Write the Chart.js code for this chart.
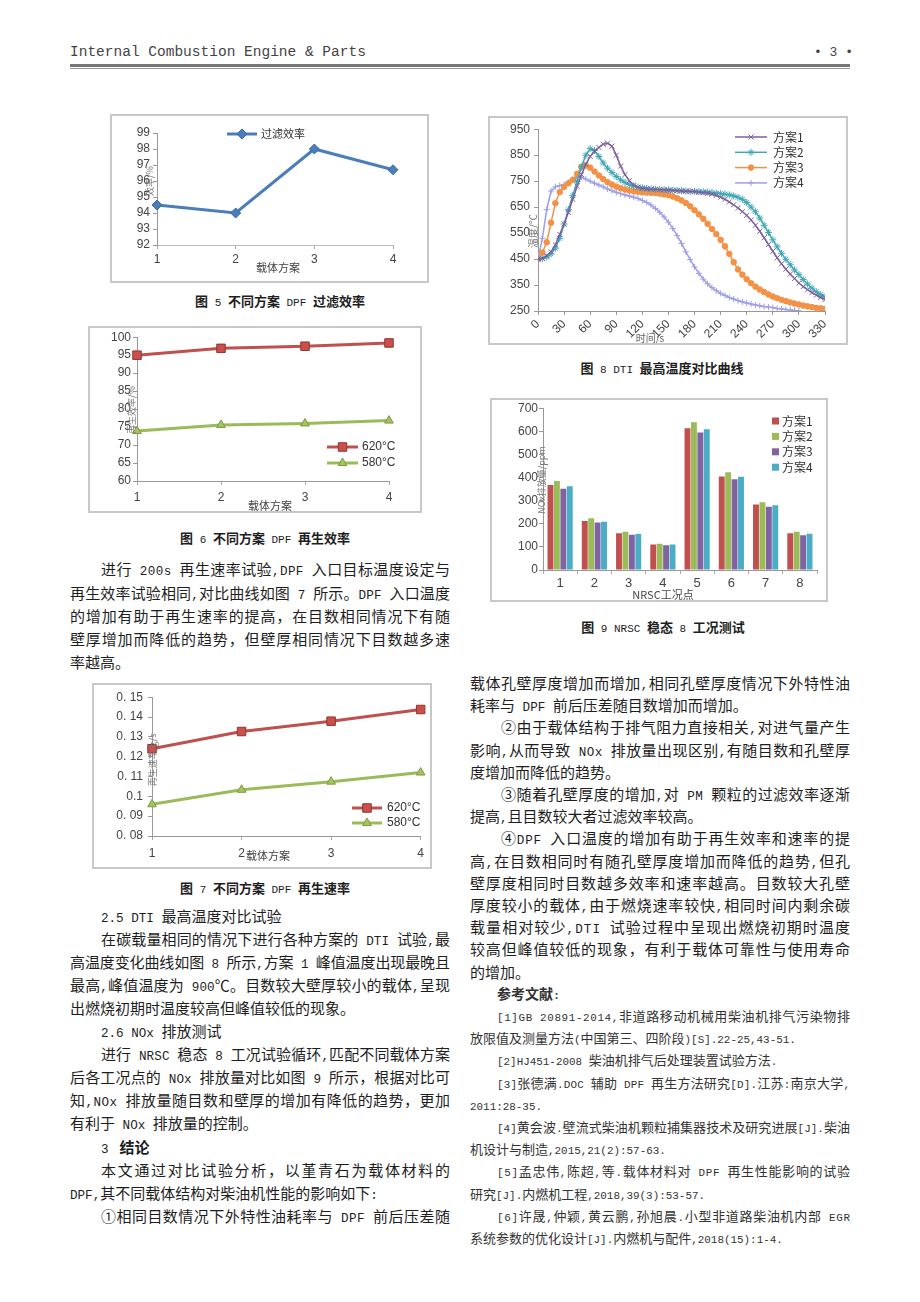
<!DOCTYPE html>
<html lang="zh">
<head>
<meta charset="utf-8">
<title>DPF 载体方案对比</title>
<script src="https://cdn.jsdelivr.net/npm/chart.js@4.4.1/dist/chart.umd.min.js"></script>
<style>
html, body { margin: 0; padding: 0; background: #fff; }
#page { position: relative; width: 920px; height: 1302px; overflow: hidden;
  font-family: "Noto Sans CJK SC", sans-serif; color: #1e1e1e; }
.hdr { position: absolute; left: 70px; top: 44px; font: 14.5px "Liberation Mono", monospace; color: #444; }
.pgno { position: absolute; left: 814px; top: 45px; font: 13px "Liberation Mono", monospace; color: #444; }
.rule { position: absolute; left: 70px; width: 780px; background: #777; }
.frame { position: absolute; border: 2px solid #c8c8c8; background: #fff; }
.frame canvas { display: block; }
.cap { position: absolute; font-size: 13px; font-weight: bold; white-space: nowrap; transform: translate(-50%, -50%); }
.cap span { font-weight: normal; font-family: "Liberation Mono", monospace; font-size: 11px; }
.ln { position: absolute; width: 380px; height: 23px; line-height: 23px; font-size: 15px; margin-top: -11.5px;
  white-space: nowrap; text-align: left; }
.ln.i { text-indent: 31px; }
.ln.r { font-size: 13px; color: #333; }
.ln.ri { text-indent: 27px; }
.lat { font-family: "Liberation Mono", monospace; font-size: 0.84em; }
.L { left: 70px; }
.R { left: 470px; }
</style>
</head>
<body>
<div id="page">
  <div class="hdr">Internal Combustion Engine &amp; Parts</div>
  <div class="pgno">• 3 •</div>
  <div class="rule" style="top:64px;height:2.5px;"></div>
  <div class="rule" style="top:68px;height:1px;background:#999;"></div>

  <div class="frame" style="left:110px;top:114px;"><canvas id="c5" width="315" height="165"></canvas></div>
  <div class="cap" style="left:280px;top:300px;">图<span> 5 </span> 不同方案<span> DPF </span>过滤效率</div>

  <div class="frame" style="left:88px;top:326px;"><canvas id="c6" width="330" height="183"></canvas></div>
  <div class="cap" style="left:265px;top:537px;">图<span> 6 </span> 不同方案<span> DPF </span>再生效率</div>

  <div class="frame" style="left:92px;top:683px;"><canvas id="c7" width="336" height="182"></canvas></div>
  <div class="cap" style="left:265px;top:887px;">图<span> 7 </span> 不同方案<span> DPF </span>再生速率</div>

  <div class="frame" style="left:488px;top:116px;"><canvas id="c8" width="356" height="225"></canvas></div>
  <div class="cap" style="left:662px;top:367px;">图<span> 8 DTI </span>最高温度对比曲线</div>

  <div class="frame" style="left:490px;top:398px;"><canvas id="c9" width="334" height="200"></canvas></div>
  <div class="cap" style="left:663px;top:626px;">图<span> 9 NRSC </span>稳态<span> 8 </span>工况测试</div>

  <!-- 左栏正文 -->
  <div class="ln L i j" style="top:568px">进行 200s 再生速率试验,DPF 入口目标温度设定与</div>
  <div class="ln L j" style="top:592px">再生效率试验相同,对比曲线如图 7 所示。DPF 入口温度</div>
  <div class="ln L j" style="top:615px">的增加有助于再生速率的提高，在目数相同情况下有随</div>
  <div class="ln L j" style="top:638px">壁厚增加而降低的趋势，但壁厚相同情况下目数越多速</div>
  <div class="ln L" style="top:661px">率越高。</div>

  <div class="ln L i" style="top:915px">2.5 DTI 最高温度对比试验</div>
  <div class="ln L i j" style="top:938px">在碳载量相同的情况下进行各种方案的 DTI 试验,最</div>
  <div class="ln L j" style="top:961px">高温度变化曲线如图 8 所示,方案 1 峰值温度出现最晚且</div>
  <div class="ln L j" style="top:984px">最高,峰值温度为 900℃。目数较大壁厚较小的载体,呈现</div>
  <div class="ln L" style="top:1007px">出燃烧初期时温度较高但峰值较低的现象。</div>
  <div class="ln L i" style="top:1030px">2.6 NOx 排放测试</div>
  <div class="ln L i j" style="top:1053px">进行 NRSC 稳态 8 工况试验循环,匹配不同载体方案</div>
  <div class="ln L j" style="top:1076px">后各工况点的 NOx 排放量对比如图 9 所示，根据对比可</div>
  <div class="ln L j" style="top:1099px">知,NOx 排放量随目数和壁厚的增加有降低的趋势，更加</div>
  <div class="ln L" style="top:1122px">有利于 NOx 排放量的控制。</div>
  <div class="ln L i" style="top:1146px">3 &nbsp;<b>结论</b></div>
  <div class="ln L i j" style="top:1169px">本文通过对比试验分析，以堇青石为载体材料的</div>
  <div class="ln L" style="top:1192px">DPF,其不同载体结构对柴油机性能的影响如下:</div>
  <div class="ln L i j" style="top:1215px">①相同目数情况下外特性油耗率与 DPF 前后压差随</div>

  <!-- 右栏正文 -->
  <div class="ln R j" style="top:682px">载体孔壁厚度增加而增加,相同孔壁厚度情况下外特性油</div>
  <div class="ln R" style="top:704px">耗率与 DPF 前后压差随目数增加而增加。</div>
  <div class="ln R i j" style="top:726px">②由于载体结构于排气阻力直接相关,对进气量产生</div>
  <div class="ln R j" style="top:749px">影响,从而导致 NOx 排放量出现区别,有随目数和孔壁厚</div>
  <div class="ln R" style="top:771px">度增加而降低的趋势。</div>
  <div class="ln R i j" style="top:793px">③随着孔壁厚度的增加,对 PM 颗粒的过滤效率逐渐</div>
  <div class="ln R" style="top:815px">提高,且目数较大者过滤效率较高。</div>
  <div class="ln R i j" style="top:837px">④DPF 入口温度的增加有助于再生效率和速率的提</div>
  <div class="ln R j" style="top:860px">高,在目数相同时有随孔壁厚度增加而降低的趋势,但孔</div>
  <div class="ln R j" style="top:882px">壁厚度相同时目数越多效率和速率越高。目数较大孔壁</div>
  <div class="ln R j" style="top:904px">厚度较小的载体,由于燃烧速率较快,相同时间内剩余碳</div>
  <div class="ln R j" style="top:926px">载量相对较少,DTI 试验过程中呈现出燃烧初期时温度</div>
  <div class="ln R j" style="top:948px">较高但峰值较低的现象，有利于载体可靠性与使用寿命</div>
  <div class="ln R" style="top:971px">的增加。</div>
  <div class="ln R r ri" style="top:993px;font-size:14px;"><b>参考文献:</b></div>
  <div class="ln R r ri j" style="top:1015px">[1]GB 20891-2014,非道路移动机械用柴油机排气污染物排</div>
  <div class="ln R r" style="top:1037px">放限值及测量方法(中国第三、四阶段)[S].22-25,43-51.</div>
  <div class="ln R r ri" style="top:1059px">[2]HJ451-2008 柴油机排气后处理装置试验方法.</div>
  <div class="ln R r ri j" style="top:1082px">[3]张德满.DOC 辅助 DPF 再生方法研究[D].江苏:南京大学,</div>
  <div class="ln R r" style="top:1104px">2011:28-35.</div>
  <div class="ln R r ri j" style="top:1126px">[4]黄会波.壁流式柴油机颗粒捕集器技术及研究进展[J].柴油</div>
  <div class="ln R r" style="top:1148px">机设计与制造,2015,21(2):57-63.</div>
  <div class="ln R r ri j" style="top:1170px">[5]孟忠伟,陈超,等.载体材料对 DPF 再生性能影响的试验</div>
  <div class="ln R r" style="top:1193px">研究[J].内燃机工程,2018,39(3):53-57.</div>
  <div class="ln R r ri j" style="top:1215px">[6]许晟,仲颖,黄云鹏,孙旭晨.小型非道路柴油机内部 EGR</div>
  <div class="ln R r" style="top:1237px">系统参数的优化设计[J].内燃机与配件,2018(15):1-4.</div>
</div>

<script>
// ---- 图5 过滤效率 ----
const schemes = ['1', '2', '3', '4'];
const filterEff = [94.5, 94.0, 98.0, 96.7];

// ---- 图6 再生效率 ----
const regenEff620 = [95.0, 96.9, 97.5, 98.4];
const regenEff580 = [73.9, 75.6, 76.0, 76.8];

// ---- 图7 再生速率 ----
const regenRate620 = [0.124, 0.1327, 0.1379, 0.1438];
const regenRate580 = [0.096, 0.1033, 0.1074, 0.112];
const rateTicks = ['0. 08', '0. 09', '0.1', '0. 11', '0. 12', '0. 13', '0. 14', '0. 15'];

// ---- 图8 DTI 最高温度 (s, ℃) ----
const dtiTime = [0, 5, 10, 15, 20, 25, 30, 35, 40, 45, 50, 55, 60, 65, 70, 75, 80, 85, 90, 95,
  100, 105, 110, 115, 120, 125, 130, 135, 140, 145, 150, 155, 160, 165, 170, 175, 180, 185, 190, 195,
  200, 205, 210, 215, 220, 225, 230, 235, 240, 245, 250, 255, 260, 265, 270, 275, 280, 285, 290, 295,
  300, 305, 310, 315, 320, 325, 330];
const dti1 = [450, 453, 462, 478, 505, 545, 585, 630, 680, 730, 775, 815, 845, 865, 880, 892, 896, 885, 850, 808,
  775, 752, 735, 726, 722, 720, 719, 718, 717, 716, 715, 714, 713, 712, 711, 710, 709, 707, 705, 703,
  700, 695, 688, 680, 670, 659, 646, 633, 618, 600, 580, 557, 532, 506, 480, 455, 432, 411, 392, 375,
  358, 344, 332, 321, 311, 302, 294];
const dti2 = [450, 452, 458, 470, 492, 530, 585, 640, 695, 750, 805, 850, 875, 868, 845, 820, 800, 783, 768, 755,
  745, 737, 731, 727, 724, 722, 720, 719, 718, 717, 716, 715, 714, 713, 712, 711, 711, 710, 709, 708,
  706, 704, 702, 700, 697, 693, 688, 680, 668, 650, 632, 608, 580, 552, 524, 497, 472, 449, 428, 408,
  390, 371, 354, 338, 324, 313, 304];
const dti3 = [450, 475, 515, 590, 665, 708, 728, 742, 755, 778, 805, 810, 802, 787, 772, 758, 746, 737, 729, 723,
  718, 714, 711, 709, 707, 706, 705, 704, 702, 699, 696, 691, 684, 676, 666, 653, 638, 622, 605, 586,
  566, 546, 524, 499, 470, 438, 410, 390, 372, 357, 344, 333, 323, 314, 306, 299, 293, 288, 283, 279,
  275, 271, 268, 265, 262, 260, 258];
const dti4 = [450, 530, 640, 712, 728, 733, 737, 745, 757, 765, 765, 758, 750, 742, 735, 728, 720, 713, 707, 702,
  697, 693, 688, 683, 676, 668, 658, 645, 630, 612, 592, 568, 540, 510, 478, 448, 420, 395, 373, 355,
  340, 328, 318, 310, 302, 296, 290, 285, 281, 277, 273, 270, 267, 265, 263, 260, 258, 256, 254, 252,
  250, null, null, null, null, null, null];

// ---- 图9 NRSC 稳态 8 工况 NOx (ppm) ----
const nrscPoints = ['1', '2', '3', '4', '5', '6', '7', '8'];
const nox1 = [368, 212, 159, 110, 613, 404, 283, 159];
const nox2 = [385, 224, 165, 114, 639, 423, 293, 165];
const nox3 = [352, 205, 152, 107, 595, 393, 274, 150];
const nox4 = [362, 209, 156, 110, 609, 403, 280, 157];

// 正文：西文字符换等宽小号字，整行两端对齐
function wrapLatin(el) {
  [...el.childNodes].forEach(node => {
    if (node.nodeType === 3) {
      const frag = document.createDocumentFragment();
      node.textContent.split(/([\x20-\x7e]+)/).forEach((part, k) => {
        if (!part) return;
        if (k % 2) {
          const s = document.createElement('span');
          s.className = 'lat';
          s.textContent = part;
          frag.appendChild(s);
        } else frag.appendChild(document.createTextNode(part));
      });
      node.replaceWith(frag);
    } else if (node.nodeType === 1) wrapLatin(node);
  });
}
document.querySelectorAll('.ln').forEach(el => {
  wrapLatin(el);
  if (!el.classList.contains('j')) return;
  const r = document.createRange();
  r.selectNodeContents(el);
  const natural = r.getBoundingClientRect().right - el.getBoundingClientRect().left;
  const n = [...el.textContent].length;
  el.style.letterSpacing = ((380 - natural) / (n - 1)) + 'px';
});

Chart.defaults.font.family = '"Liberation Sans", "Noto Sans CJK SC", sans-serif';
Chart.defaults.color = '#444';
Chart.defaults.animation = false;

const CJK = '"Noto Sans CJK SC", sans-serif';

// 自由文字 (轴标题等)
function notes(items) {
  return {
    id: 'notes',
    afterDraw(chart) {
      const c = chart.ctx;
      items.forEach(n => {
        c.save();
        c.font = n.font || ('11px ' + CJK);
        c.fillStyle = n.color || '#444';
        c.textAlign = 'center';
        c.textBaseline = 'middle';
        c.translate(n.x, n.y);
        if (n.rot) c.rotate(n.rot * Math.PI / 180);
        c.fillText(n.text, 0, 0);
        c.restore();
      });
    }
  };
}

// 图例，画在指定位置
function legendAt(cfg) {
  return {
    id: 'legendAt',
    afterDraw(chart) {
      const c = chart.ctx;
      chart.data.datasets.forEach((ds, i) => {
        const y = cfg.y + i * cfg.dy;
        c.save();
        if (cfg.bar) {
          c.fillStyle = ds.backgroundColor;
          c.fillRect(cfg.x, y - cfg.box / 2, cfg.box, cfg.box);
        } else {
          c.strokeStyle = ds.borderColor;
          c.lineWidth = ds.borderWidth;
          c.beginPath(); c.moveTo(cfg.x, y); c.lineTo(cfg.x + cfg.len, y); c.stroke();
          c.fillStyle = ds.pointBackgroundColor;
          c.strokeStyle = ds.pointBorderColor;
          c.lineWidth = ds.pointBorderWidth;
          if (Chart.helpers && Chart.helpers.drawPoint) {
            Chart.helpers.drawPoint(c, { pointStyle: ds.pointStyle, radius: ds.pointRadius, borderWidth: ds.pointBorderWidth, rotation: 0 }, cfg.x + cfg.len / 2, y);
          }
        }
        c.font = cfg.font;
        c.fillStyle = '#333';
        c.textAlign = 'left';
        c.textBaseline = 'middle';
        c.fillText(ds.label, cfg.tx, y);
        c.restore();
      });
    }
  };
}

function xAxis(h, pad, dashed) {
  return {
    grid: { drawOnChartArea: false, tickLength: 4, color: '#aaa' },
    border: { color: dashed ? '#bbb' : '#999', dash: dashed ? [2, 2] : [] },
    ticks: { font: { size: 12 }, padding: pad, color: '#444' },
    afterFit: s => { s.height = h; }
  };
}
function yAxis(w, min, max, step, pad) {
  return {
    min: min, max: max,
    grid: { drawOnChartArea: false, tickLength: 4, color: '#999' },
    border: { color: '#999' },
    ticks: { stepSize: step, autoSkip: false, font: { size: 12 }, padding: pad, color: '#444' },
    afterFit: s => { s.width = w; }
  };
}
const base = pad => ({
  responsive: false, animation: false, devicePixelRatio: 1,
  layout: { padding: pad, autoPadding: false },
  plugins: { legend: { display: false }, tooltip: { enabled: false } }
});

// 图5
new Chart(document.getElementById('c5'), {
  type: 'line',
  data: {
    labels: schemes,
    datasets: [{
      label: '过滤效率', data: filterEff, borderColor: '#4a7ebb', borderWidth: 3,
      pointStyle: 'rectRot', pointRadius: 5, pointBackgroundColor: '#4a7ebb',
      pointBorderColor: '#3d6aa5', pointBorderWidth: 1
    }]
  },
  options: Object.assign(base({ top: 17, right: 34, left: 0, bottom: 0 }), {
    scales: { x: xAxis(36, 3, true), y: yAxis(45, 92, 99, 1, 3) }
  }),
  plugins: [
    notes([
      { text: '载体方案', x: 166, y: 152 },
      { text: '效率/%', x: 38, y: 65, rot: -90, font: '9px ' + CJK, color: '#777' }
    ]),
    legendAt({ x: 115, len: 30, y: 18, dy: 0, tx: 149, font: '11px ' + CJK })
  ]
});

// 图6
new Chart(document.getElementById('c6'), {
  type: 'line',
  data: {
    labels: schemes,
    datasets: [{
      label: '620°C', data: regenEff620, borderColor: '#c0504d', borderWidth: 3,
      pointStyle: 'rect', pointRadius: 6, pointBackgroundColor: '#c9504d',
      pointBorderColor: '#8e3532', pointBorderWidth: 1
    }, {
      label: '580°C', data: regenEff580, borderColor: '#9bbb59', borderWidth: 3,
      pointStyle: 'triangle', pointRadius: 5, pointBackgroundColor: '#a3c45e',
      pointBorderColor: '#7d9a43', pointBorderWidth: 1
    }]
  },
  options: Object.assign(base({ top: 9, right: 31, left: 0, bottom: 0 }), {
    scales: { x: xAxis(30, 5, false), y: yAxis(47, 60, 100, 5, 2) }
  }),
  plugins: [
    notes([
      { text: '载体方案', x: 180, y: 178 },
      { text: '再生效率/%', x: 42, y: 82, rot: -90, font: '9px ' + CJK, color: '#777' }
    ]),
    legendAt({ x: 237, len: 31, y: 119, dy: 16, tx: 272, font: '12px "Liberation Sans"' })
  ]
});

// 图7
new Chart(document.getElementById('c7'), {
  type: 'line',
  data: {
    labels: schemes,
    datasets: [{
      label: '620°C', data: regenRate620, borderColor: '#c0504d', borderWidth: 3,
      pointStyle: 'rect', pointRadius: 6, pointBackgroundColor: '#c9504d',
      pointBorderColor: '#8e3532', pointBorderWidth: 1
    }, {
      label: '580°C', data: regenRate580, borderColor: '#9bbb59', borderWidth: 3,
      pointStyle: 'triangle', pointRadius: 5, pointBackgroundColor: '#a3c45e',
      pointBorderColor: '#7d9a43', pointBorderWidth: 1
    }]
  },
  options: Object.assign(base({ top: 8, right: 8, left: 0, bottom: 0 }), {
    scales: {
      x: xAxis(31, 6, false),
      y: Object.assign(yAxis(58, 0.08, 0.15, 0.01, 5), {
        ticks: { stepSize: 0.01, autoSkip: false, font: { size: 12 }, padding: 5, color: '#444', callback: (v, i) => rateTicks[i] }
      })
    }
  }),
  plugins: [
    notes([
      { text: '载体方案', x: 174, y: 171 },
      { text: '再生速率/g/s', x: 59, y: 75, rot: -90, font: '9px ' + CJK, color: '#777' }
    ]),
    legendAt({ x: 258, len: 30, y: 123, dy: 15, tx: 293, font: '12px "Liberation Sans"' })
  ]
});

// 图8
const pts = ys => dtiTime.map((t, i) => ({ x: t, y: ys[i] })).filter(p => p.y !== null);
const dtiSet = (label, ys, color, style, r) => ({
  label: label, data: pts(ys), borderColor: color, borderWidth: 1.5,
  pointStyle: style, pointRadius: r, pointBackgroundColor: color,
  pointBorderColor: color, pointBorderWidth: 1
});
new Chart(document.getElementById('c8'), {
  type: 'line',
  data: {
    datasets: [
      dtiSet('方案1', dti1, '#7d5fa0', 'crossRot', 3.5),
      dtiSet('方案2', dti2, '#3fa7b5', 'star', 3.5),
      dtiSet('方案3', dti3, '#f39247', 'circle', 2.8),
      dtiSet('方案4', dti4, '#9c9ee6', 'cross', 3)
    ]
  },
  options: Object.assign(base({ top: 7, right: 21, left: 0, bottom: 0 }), {
    scales: {
      x: {
        type: 'linear', min: 0, max: 330,
        grid: { drawOnChartArea: false, tickLength: 4, color: '#999' },
        border: { color: '#999' },
        ticks: { stepSize: 30, autoSkip: false, maxRotation: 45, minRotation: 45, font: { size: 12 }, padding: 2, color: '#444' },
        afterFit: s => { s.height = 32; }
      },
      y: yAxis(48, 250, 950, 100, 4)
    }
  }),
  plugins: [
    notes([
      { text: '时间/s', x: 160, y: 220, font: '10px ' + CJK, color: '#666' },
      { text: '温度/℃', x: 43, y: 113, rot: -90, font: '10px ' + CJK, color: '#777' }
    ]),
    legendAt({ x: 245, len: 32, y: 19, dy: 15.3, tx: 283, font: '12px ' + CJK })
  ]
});

// 图9
const barSet = (label, ys, color) => ({
  label: label, data: ys, backgroundColor: color, borderWidth: 0,
  categoryPercentage: 0.75, barPercentage: 0.92
});
new Chart(document.getElementById('c9'), {
  type: 'bar',
  data: {
    labels: nrscPoints,
    datasets: [
      barSet('方案1', nox1, '#c0504d'),
      barSet('方案2', nox2, '#9bbb59'),
      barSet('方案3', nox3, '#8064a2'),
      barSet('方案4', nox4, '#4bacc6')
    ]
  },
  options: Object.assign(base({ top: 8, right: 9, left: 0, bottom: 0 }), {
    scales: {
      x: Object.assign(xAxis(30, 2, false), { ticks: { font: { size: 13 }, padding: 2, color: '#444' } }),
      y: yAxis(51, 0, 700, 100, 1)
    }
  }),
  plugins: [
    notes([
      { text: 'NRSC工况点', x: 171, y: 195, font: '11px ' + CJK, color: '#444' },
      { text: 'NOx排放量/ppm', x: 50, y: 80, rot: -90, font: '9px ' + CJK, color: '#777' }
    ]),
    legendAt({ bar: true, x: 280, box: 7, y: 21, dy: 15.4, tx: 290, font: '12px ' + CJK })
  ]
});
</script>
</body>
</html>
